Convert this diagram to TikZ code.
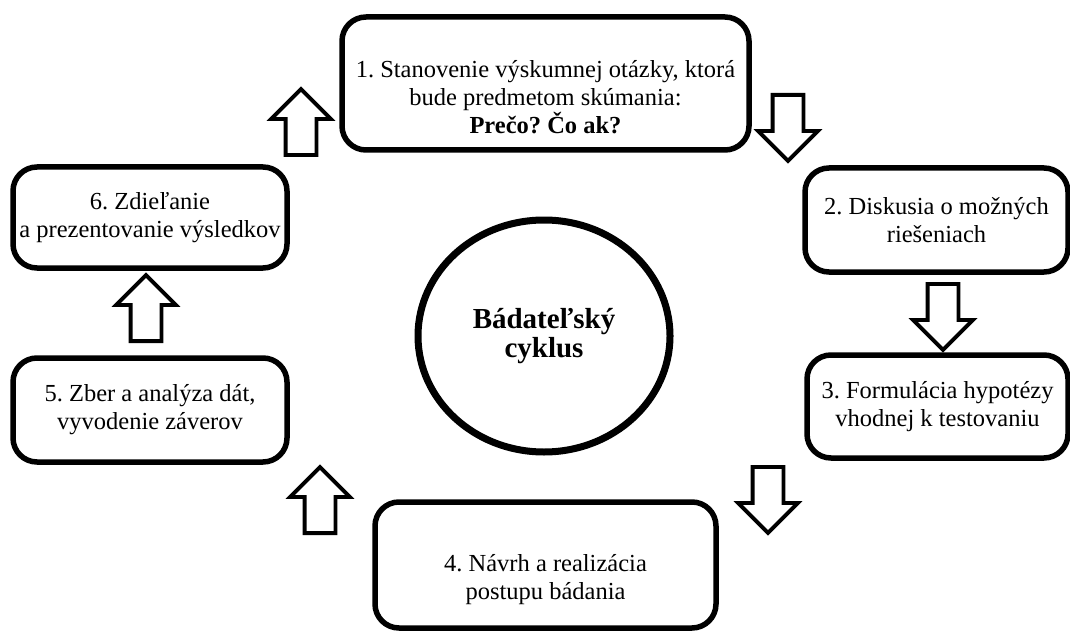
\documentclass[tikz,border=0pt]{standalone}
\usepackage{fontspec}
\setmainfont{Liberation Serif}
\usetikzlibrary{shapes.arrows,shapes.geometric}

\begin{document}
\frenchspacing
\begin{tikzpicture}[
    x=1pt,y=-1pt,
    stepbox/.style={draw,line width=5.5pt,rounded corners=24pt,align=center,
      font=\fontsize{24.5}{28}\selectfont,inner sep=0pt},
    steptext/.style={align=center,font=\fontsize{24.5}{28}\selectfont,inner sep=0pt},
    core/.style={ellipse,draw,line width=7pt,align=center,inner sep=0pt,
      minimum width=252pt,minimum height=232pt,
      font=\bfseries\fontsize{29}{29}\selectfont},
    blockarrow/.style={single arrow,draw,fill=white,line width=3.8pt,
      minimum height=66pt,minimum width=56pt,single arrow head extend=14.5pt,
      single arrow head indent=0pt,inner sep=0pt,
      text height=13.5pt,text depth=13.5pt,anchor=tail},
    arrowup/.style={blockarrow,rotate=90},
    arrowdown/.style={blockarrow,rotate=-90}
  ]
    \useasboundingbox (0,0) rectangle (1070,631);
    % steps of the cycle
    \node[stepbox,minimum width=407pt,minimum height=133pt] (s1) at (545.5,83.5) {};
    \node[steptext] (t1) at (545.5,97)
      {1. Stanovenie výskumnej otázky, ktorá\\bude predmetom skúmania:\\\textbf{Prečo? Čo ak?}};
    \node[stepbox,minimum width=263pt,minimum height=104pt] (s2) at (936.5,220)
      {2. Diskusia o možných\\riešeniach};
    \node[stepbox,minimum width=261pt,minimum height=103pt] (s3) at (937.5,406.5)
      {3. Formulácia hypotézy\\vhodnej k testovaniu};
    \node[stepbox,minimum width=341pt,minimum height=126pt] (s4) at (545.5,565) {};
    \node[steptext] (t4) at (545.5,580)
      {4. Návrh a realizácia\\postupu bádania};
    \node[stepbox,minimum width=274pt,minimum height=104pt] (s5) at (150,410)
      {5. Zber a analýza dát,\\vyvodenie záverov};
    \node[stepbox,minimum width=274pt,minimum height=101pt] (s6) at (150,217.5)
      {6. Zdieľanie\\a prezentovanie výsledkov};
    % centre
    \node[core] (cyc) at (544,336) {Bádateľský\\cyklus};
    % block arrows between the steps, placed by their tails
    \node[arrowdown] (a12) at (788,93) {};
    \node[arrowdown] (a23) at (943,282) {};
    \node[arrowdown] (a34) at (768,465) {};
    \node[arrowup] (a45) at (320,535) {};
    \node[arrowup] (a56) at (146,343) {};
    \node[arrowup] (a61) at (301,157) {};
  \end{tikzpicture}
\end{document}
